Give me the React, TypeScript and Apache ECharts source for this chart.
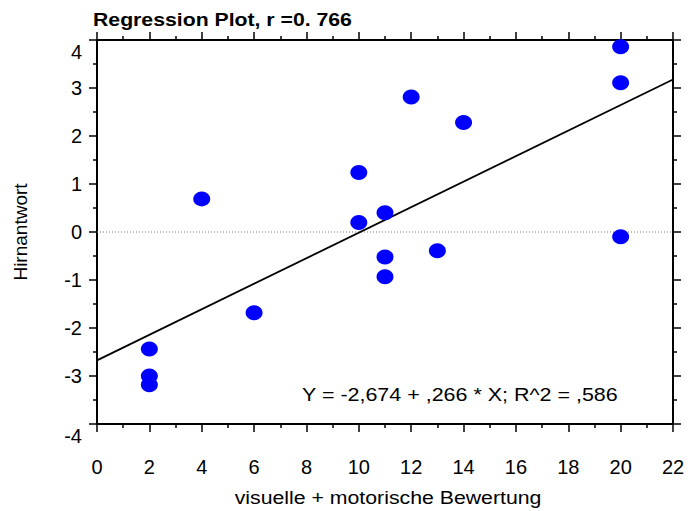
import React, { useEffect, useRef } from "react";
import * as echarts from "echarts";

const titleText = "Regression Plot, r =0. 766";
const xName = "visuelle + motorische Bewertung";
const yName = "Hirnantwort";
const equationText = "Y = -2,674 + ,266 * X; R^2 = ,586";

const xValues = [2, 2, 2, 4, 6, 10, 10, 11, 11, 11, 12, 13, 14, 20, 20, 20];
const yValues = [-2.44, -3.0, -3.18, 0.69, -1.68, 1.24, 0.2, 0.4, -0.52, -0.93, 2.81, -0.39, 2.28, 3.86, 3.11, -0.1];

const intercept = -2.674;
const slope = 0.266;
const xRange = [0, 22];
const yRange = [-4, 4];

const FONT = "'Liberation Sans', Arial, sans-serif";

export default function App() {
  const ref = useRef<HTMLDivElement>(null);
  useEffect(() => {
    if (!ref.current) return;
    const chart = echarts.init(ref.current, undefined, { renderer: "svg" });
    const points = xValues.map((x, i) => [x, yValues[i]]);
    const regLine = xRange.map((x) => [x, intercept + slope * x]);
    const zeroLine = xRange.map((x) => [x, 0]);

    const axisLineStyle = { color: "#000", width: 2 };
    const tickStyle = { color: "#000", width: 1.5 };
    const xCommon = {
      type: "value" as const,
      min: xRange[0],
      max: xRange[1],
      interval: 2,
      splitLine: { show: false },
      axisLine: { show: true, onZero: false, lineStyle: axisLineStyle },
      axisTick: { show: true, length: 8, lineStyle: tickStyle },
      minorTick: { show: true, splitNumber: 2, length: 4, lineStyle: tickStyle },
      minorSplitLine: { show: false },
    };
    const yCommon = {
      type: "value" as const,
      min: yRange[0],
      max: yRange[1],
      interval: 1,
      splitLine: { show: false },
      axisLine: { show: true, onZero: false, lineStyle: axisLineStyle },
      axisTick: { show: true, length: 8, lineStyle: tickStyle },
      minorTick: { show: true, splitNumber: 2, length: 4, lineStyle: tickStyle },
      minorSplitLine: { show: false },
    };

    chart.setOption({
      animation: false,
      backgroundColor: "#fff",
      grid: { left: 97, right: 15, top: 40, bottom: 87, containLabel: false, outerBoundsMode: "none" },
      xAxis: [
        {
          ...xCommon,
          position: "bottom",
          axisLabel: { fontSize: 20, color: "#000", margin: 33, fontFamily: FONT },
        },
        {
          ...xCommon,
          position: "top",
          axisLabel: { show: false },
        },
      ],
      yAxis: [
        {
          ...yCommon,
          position: "left",
          axisLabel: {
            fontSize: 20,
            color: "#000",
            margin: 15,
            fontFamily: FONT,
            formatter: (v: number) => (v === yRange[1] || v === yRange[0] ? `{edge|${v}}` : `${v}`),
            rich: { edge: { fontSize: 20, color: "#000", fontFamily: FONT, padding: [23, 0, 0, 0] } },
          },
          name: yName,
          nameLocation: "middle",
          nameGap: 67,
          nameTextStyle: { fontSize: 19, color: "#000", fontFamily: FONT },
        },
        {
          ...yCommon,
          position: "right",
          axisLabel: { show: false },
        },
      ],
      graphic: [
        {
          type: "text",
          x: 93,
          y: 20,
          scaleX: 1.18,
          style: {
            text: titleText,
            font: `bold 18px ${FONT}`,
            fill: "#000",
            textAlign: "left",
            textVerticalAlign: "middle",
          },
        },
        {
          type: "text",
          x: 302,
          y: 394,
          scaleX: 1.13,
          style: {
            text: equationText,
            font: `19px ${FONT}`,
            fill: "#000",
            textAlign: "left",
            textVerticalAlign: "middle",
          },
        },
        {
          type: "text",
          x: 388,
          y: 497,
          scaleX: 1.12,
          style: {
            text: xName,
            font: `19px ${FONT}`,
            fill: "#000",
            textAlign: "center",
            textVerticalAlign: "middle",
          },
        },
      ],
      series: [
        {
          type: "line",
          data: zeroLine,
          symbol: "none",
          silent: true,
          lineStyle: { color: "#777", width: 1, type: [1, 2] },
          z: 1,
        },
        {
          type: "line",
          data: regLine,
          symbol: "none",
          silent: true,
          lineStyle: { color: "#000", width: 1.8 },
          z: 2,
        },
        {
          type: "scatter",
          data: points,
          symbol: "circle",
          symbolSize: [17, 15],
          itemStyle: { color: "#0000ff", opacity: 1 },
          z: 3,
        },
      ],
    });
    return () => chart.dispose();
  }, []);
  return <div ref={ref} style={{ position: "fixed", left: 0, top: 0, width: 688, height: 511 }} />;
}
